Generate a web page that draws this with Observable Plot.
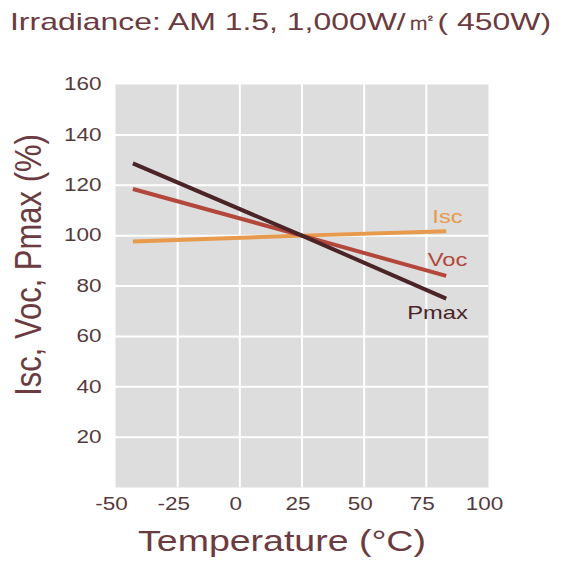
<!DOCTYPE html>
<html>
<head>
<meta charset="utf-8">
<script src="https://cdn.jsdelivr.net/npm/d3@7"></script>
<script src="https://cdn.jsdelivr.net/npm/@observablehq/plot@0.6"></script>
<style>
  body { margin: 0; background: #fff; font-family: "Liberation Sans", Arial, sans-serif; }
  #title { height: 45px; line-height: 44px; padding-left: 10px; font-size: 24px; color: #6b3b40; white-space: nowrap; }
  #title span { display: inline-block; transform: scaleX(1.33); transform-origin: left center; }
</style>
</head>
<body>
<div id="title"><span>Irradiance: AM 1.5, 1,000W/㎡( 450W)</span></div>
<div id="chart"></div>
<script>
// temperatures (°C)
const temps = [-43, 25, 83];
const isc = [97.7, 100, 101.7];
const voc = [118.5, 100, 84];
const pmax = [128.7, 100, 75];

const xTicks = [-50, -25, 0, 25, 50, 75, 100];
const yTicks = [20, 40, 60, 80, 100, 120, 140, 160];

const seriesNames = ["Isc", "Voc", "Pmax"];
const seriesColors = ["#e89a4c", "#b3473b", "#4b2427"];
// where each series name sits, in data units
const labelX = [83.5, 83.5, 79.5];
const labelY = [107.5, 90.5, 69.5];

let rows = [];
[isc, voc, pmax].forEach((vals, i) => {
  vals.forEach((v, j) => rows.push({serie: seriesNames[i], temp: temps[j], value: v}));
});
let labels = seriesNames.map((s, i) => ({serie: s, x: labelX[i], y: labelY[i]}));

let chart = Plot.plot({
  width: 567,
  height: 527,
  marginTop: 39,
  marginBottom: 85,
  marginLeft: 115,
  marginRight: 79,
  style: {fontFamily: "Liberation Sans, Arial, sans-serif", color: "#5e3a3c", background: "#fff"},
  x: {domain: [-50, 100]},
  y: {domain: [0, 160]},
  color: {domain: seriesNames, range: seriesColors},
  marks: [
    Plot.frame({fill: "#dcdddc", stroke: null}),
    Plot.gridX([-25, 0, 25, 50, 75], {stroke: "#fff", strokeOpacity: 1, strokeWidth: 2}),
    Plot.gridY([20, 40, 60, 80, 100, 120, 140], {stroke: "#fff", strokeOpacity: 1, strokeWidth: 2}),
    Plot.axisX(xTicks, {tickSize: 0, tickPadding: 10, fontSize: 18, dx: -4, label: null, fill: "#553a3c", tickFormat: d => `${d}`}),
    Plot.axisY(yTicks, {tickSize: 0, tickPadding: 14, fontSize: 18, label: null, fill: "#553a3c"}),
    Plot.line(rows, {x: "temp", y: "value", z: "serie", stroke: "serie", strokeWidth: 4, strokeLinecap: "butt"}),
    Plot.text(labels, {x: "x", y: "y", text: "serie", fill: "serie", fontSize: 19}),
    Plot.text(["Temperature (°C)"], {frameAnchor: "bottom", dx: -20, dy: 63, fontSize: 30, fill: "#6b3b40"}),
    Plot.text(["Isc, Voc, Pmax (%)"], {frameAnchor: "left", textAnchor: "middle", dx: -87, dy: -21, rotate: -90, fontSize: 31, fill: "#6b3b40", className: "ylab"})
  ]
});

// the reference is stretched sideways: widen every glyph a bit
d3.select(chart).selectAll("text").each(function() {
  const rotated = this.closest(".ylab") != null;
  const s = rotated ? "scale(1,1.22)" : "scale(1.25,1)";
  const t = this.getAttribute("transform") || "";
  this.setAttribute("transform", `${t} ${s}`.trim());
});

d3.select('#chart').append(() => chart);
</script>
</body>
</html>
